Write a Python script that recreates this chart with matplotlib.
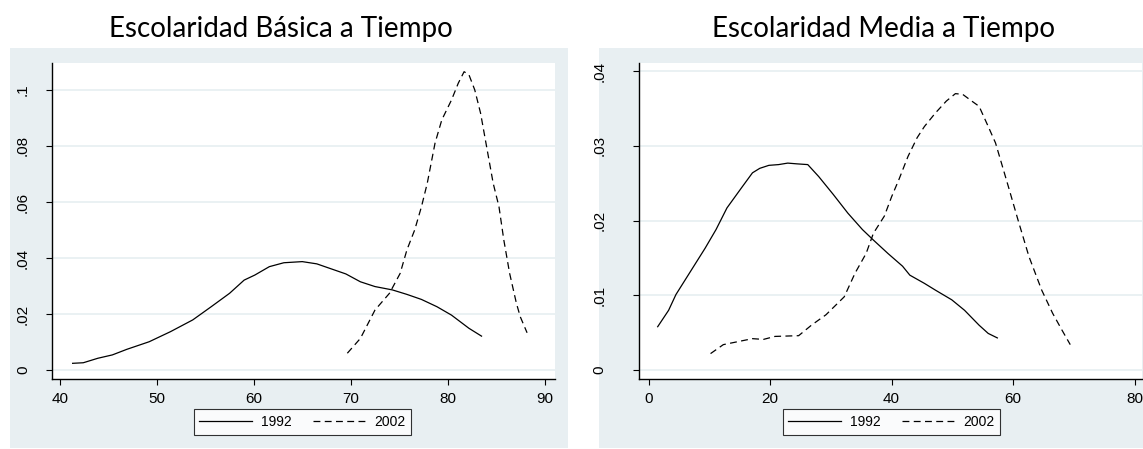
import matplotlib
matplotlib.use("Agg")
import matplotlib.pyplot as plt
from matplotlib.patches import Rectangle
from matplotlib.lines import Line2D

# Escolaridad Basica a Tiempo (kernel densities)
basica_1992_x = [41.3, 42.4, 43.9, 45.4, 46.9, 49.2, 51.4, 53.7, 55.6, 57.5, 59.0, 60.1, 61.6,
                 63.1, 65.0, 66.5, 69.5, 71.0, 72.5, 74.3, 75.8, 77.3, 78.9, 80.4, 82.2, 83.5]
basica_1992_y = [0.0024, 0.0026, 0.0042, 0.0054, 0.0074, 0.0101, 0.0137, 0.0179, 0.0226, 0.0274,
                 0.0321, 0.0339, 0.0369, 0.0383, 0.0387, 0.0379, 0.0343, 0.0315, 0.0298, 0.0286,
                 0.0270, 0.0252, 0.0226, 0.0196, 0.0149, 0.0121]
basica_2002_x = [69.65, 71.0, 72.5, 74.0, 75.1, 75.8, 76.6, 77.3, 77.9, 78.7, 79.4, 80.4, 81.1,
                 81.7, 82.2, 82.8, 83.4, 83.9, 84.7, 85.3, 85.8, 86.4, 87.1, 87.5, 88.2]
basica_2002_y = [0.0060, 0.0113, 0.0214, 0.0274, 0.0345, 0.0429, 0.0500, 0.0583, 0.0667, 0.0810,
                 0.0893, 0.0964, 0.1024, 0.1065, 0.1054, 0.1000, 0.0917, 0.0821, 0.0667, 0.0583,
                 0.0464, 0.0345, 0.0238, 0.0190, 0.0133]

# Escolaridad Media a Tiempo
media_1992_x = [1.5, 3.3, 4.5, 6.9, 9.3, 11.1, 12.9, 15.3, 17.1, 18.3, 19.8, 21.4, 22.9, 24.4,
                26.2, 28.0, 30.4, 32.8, 35.2, 37.0, 39.4, 41.8, 43.0, 45.4, 47.2, 49.9, 52.0,
                54.4, 55.9, 57.4]
media_1992_y = [0.0058, 0.0080, 0.0101, 0.0132, 0.0163, 0.0188, 0.0217, 0.0244, 0.0264, 0.0270,
                0.0274, 0.0275, 0.0277, 0.0276, 0.0275, 0.0259, 0.0235, 0.0210, 0.0188, 0.0174,
                0.0156, 0.0139, 0.0127, 0.0116, 0.0107, 0.0094, 0.0080, 0.0060, 0.0049, 0.0043]
media_2002_x = [10.2, 12.3, 14.7, 17.1, 18.9, 20.8, 24.7, 26.8, 29.2, 32.2, 34.0, 35.8, 37.0,
                38.8, 40.0, 41.2, 42.7, 44.2, 45.4, 47.2, 49.0, 50.5, 51.7, 53.2, 54.4, 55.9,
                57.1, 59.2, 60.8, 62.6, 64.7, 66.5, 68.0, 69.4]
media_2002_y = [0.0022, 0.0034, 0.0038, 0.0042, 0.0041, 0.0045, 0.0046, 0.0060, 0.0074, 0.0098,
                0.0130, 0.0156, 0.0183, 0.0206, 0.0232, 0.0255, 0.0286, 0.0311, 0.0326, 0.0344,
                0.0360, 0.0370, 0.0369, 0.0360, 0.0353, 0.0326, 0.0304, 0.0246, 0.0201, 0.0152,
                0.0107, 0.0076, 0.0054, 0.0034]

basica_yticks = [0, 0.02, 0.04, 0.06, 0.08, 0.1]
basica_ylabels = ["0", ".02", ".04", ".06", ".08", ".1"]
basica_xticks = [40, 50, 60, 70, 80, 90]
media_yticks = [0, 0.01, 0.02, 0.03, 0.04]
media_ylabels = ["0", ".01", ".02", ".03", ".04"]
media_xticks = [0, 20, 40, 60, 80]
series_labels = ["1992", "2002"]

W, H = 1143, 449
BG = "#e8eff2"
GRID = "#eaf1f3"
TICKFONT = "Liberation Sans"
DASH = (5.5, 3.5)

fig = plt.figure(figsize=(W / 100, H / 100), dpi=100)
fig.patch.set_facecolor("white")


def px(x0, y0, w, h):
    # pixel box (top-left origin) -> figure fraction
    return [x0 / W, (H - y0 - h) / H, w / W, h / H]


# gray graph regions
fig.add_artist(Rectangle((10 / W, (H - 448) / H), 558 / W, 400 / H,
                         transform=fig.transFigure, facecolor=BG, edgecolor="none", zorder=0))
fig.add_artist(Rectangle((599 / W, (H - 448) / H), (W - 599) / W, 400 / H,
                         transform=fig.transFigure, facecolor=BG, edgecolor="none", zorder=0))


def panel(rect, xlim, ylim, xticks, yticks, ylabels, data, title, title_x, leg_cx, ypad):
    ax = fig.add_axes(rect)
    ax.set_facecolor("white")
    ax.set_xlim(*xlim)
    ax.set_ylim(*ylim)
    for y in yticks:
        ax.axhline(y, color=GRID, lw=1.4, zorder=0)
    (x1, y1), (x2, y2) = data
    ax.plot(x1, y1, color="black", lw=0.9, solid_joinstyle="round")
    ax.plot(x2, y2, color="black", lw=0.9, dashes=DASH)
    ax.spines["top"].set_visible(False)
    ax.spines["right"].set_visible(False)
    ax.spines["left"].set_linewidth(1.0)
    ax.spines["bottom"].set_linewidth(1.0)
    ax.set_xticks(xticks)
    ax.set_xticklabels([str(t) for t in xticks], fontfamily=TICKFONT, fontsize=11)
    ax.set_yticks(yticks)
    ax.set_yticklabels(ylabels, fontfamily=TICKFONT, fontsize=11, rotation=90, va="center")
    ax.tick_params(direction="out", length=4.5, width=0.8)
    ax.tick_params(axis="x", pad=5)
    ax.tick_params(axis="y", pad=ypad)
    fig.text(title_x / W, 1 - 37 / H, title, ha="center", va="baseline",
             fontsize=20, fontfamily="Lato")
    handles = [Line2D([], [], color="black", lw=0.9),
               Line2D([], [], color="black", lw=0.9, dashes=DASH)]
    leg = fig.legend(handles, series_labels, loc="center", ncol=2,
                     bbox_to_anchor=(leg_cx / W, 1 - 422 / H),
                     prop={"family": TICKFONT, "size": 10}, frameon=True, fancybox=False,
                     handlelength=3.8, columnspacing=1.5, handletextpad=0.65,
                     borderpad=0.4)
    leg.get_frame().set_edgecolor("black")
    leg.get_frame().set_linewidth(0.8)
    return ax


panel(px(51.6, 63, 503, 316), (39.13, 91.04), (-0.0032, 0.1096),
      basica_xticks, basica_yticks, basica_ylabels,
      [(basica_1992_x, basica_1992_y), (basica_2002_x, basica_2002_y)],
      "Escolaridad Básica a Tiempo", 281, 302.7, 11)

panel(px(639.4, 63, 503, 316), (-1.51, -1.51 + 503 / 6.076), (-0.0012, 0.0411),
      media_xticks, media_yticks, media_ylabels,
      [(media_1992_x, media_1992_y), (media_2002_x, media_2002_y)],
      "Escolaridad Media a Tiempo", 883, 891.6, 19)

fig.savefig("out.png", dpi=100, facecolor="white")
